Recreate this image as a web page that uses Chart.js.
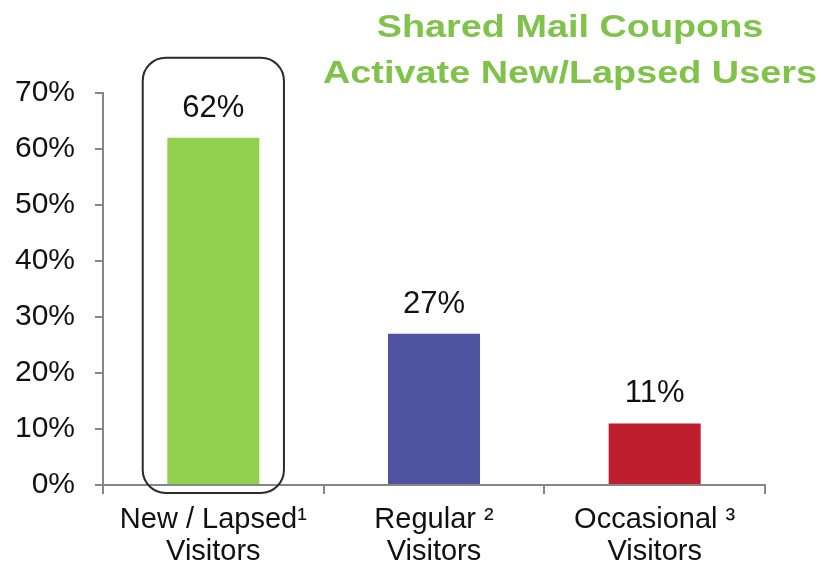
<!DOCTYPE html>
<html>
<head>
<meta charset="utf-8">
<script src="https://cdn.jsdelivr.net/npm/chart.js@4.4.0/dist/chart.umd.min.js"></script>
<style>
  html, body { margin: 0; padding: 0; background: #fff; }
  #wrap { width: 821px; height: 571px; position: relative; }
</style>
</head>
<body>
<div id="wrap"><canvas id="chart"></canvas></div>
<script>
// Shared mail coupons - share of visitors by type

const categories = [
  ['New / Lapsed\u00B9', 'Visitors'],
  ['Regular \u00B2', 'Visitors'],
  ['Occasional \u00B3', 'Visitors']
];
const shares = [62, 27, 11];
const barColors = ['#92D050', '#4F529E', '#BE1E2D'];
const yTicks = [0, 10, 20, 30, 40, 50, 60, 70];
const titleLines = ['Shared Mail Coupons', 'Activate New/Lapsed Users'];
const highlightIndex = 0;   // bar wrapped in the rounded box
const highlightTop = 76.3;  // box top, in % units

const FONT = '"Liberation Sans", Arial, sans-serif';
const AXIS = '#868686';

// green two-line heading, top right
const titlePlugin = {
  id: 'titleText',
  afterDraw(chart) {
    const ctx = chart.ctx;
    ctx.save();
    ctx.fillStyle = '#80C34A';
    ctx.font = 'bold 31px ' + FONT;
    ctx.textAlign = 'center';
    ctx.textBaseline = 'alphabetic';
    const cx = 570;
    [37, 83].forEach((y, i) => {
      ctx.save();
      ctx.translate(cx, y);
      ctx.scale(1.22, 1);
      ctx.fillText(titleLines[i], 0, 0);
      ctx.restore();
    });
    ctx.restore();
  }
};

// value labels above bars
const valueLabels = {
  id: 'valueLabels',
  afterDatasetsDraw(chart) {
    const ctx = chart.ctx;
    const meta = chart.getDatasetMeta(0);
    ctx.save();
    ctx.fillStyle = '#111';
    ctx.font = '31px ' + FONT;
    ctx.textAlign = 'center';
    ctx.textBaseline = 'alphabetic';
    meta.data.forEach((bar, i) => {
      ctx.fillText(shares[i] + '%', bar.x, bar.y - 21);
    });
    ctx.restore();
  }
};

// rounded outline around the highlighted bar
const highlightBox = {
  id: 'highlightBox',
  afterDraw(chart) {
    const x = chart.scales.x, y = chart.scales.y;
    const cw = (x.right - x.left) / categories.length;
    const cx = x.getPixelForValue(highlightIndex);
    const left = cx - cw * 0.32, right = cx + cw * 0.32;
    const top = y.getPixelForValue(highlightTop);
    const bottom = y.getPixelForValue(0) + 8;
    const ctx = chart.ctx;
    ctx.save();
    ctx.strokeStyle = '#2b2b2b';
    ctx.lineWidth = 2;
    ctx.beginPath();
    ctx.roundRect(left, top, right - left, bottom - top, 23);
    ctx.stroke();
    ctx.restore();
  }
};

new Chart(document.getElementById('chart'), {
  type: 'bar',
  data: {
    labels: categories,
    datasets: [{
      data: shares,
      backgroundColor: barColors,
      borderWidth: 0,
      categoryPercentage: 1,
      barPercentage: 0.417
    }]
  },
  options: {
    responsive: true,
    maintainAspectRatio: false,
    animation: false,
    layout: { padding: { top: 93, right: 56, left: 0, bottom: 0 } },
    plugins: { legend: { display: false }, tooltip: { enabled: false } },
    scales: {
      x: {
        grid: { display: true, drawOnChartArea: false, drawTicks: true, tickLength: 9, color: AXIS, lineWidth: 2, offset: true },
        border: { display: true, color: AXIS, width: 2 },
        ticks: { color: '#111', font: { family: FONT, size: 29, lineHeight: 1.1 }, padding: 10, maxRotation: 0, autoSkip: false },
        afterFit(s) { s.height = 86; }
      },
      y: {
        min: 0,
        max: 70,
        afterBuildTicks(s) { s.ticks = yTicks.map(v => ({ value: v })); },
        grid: { display: true, drawOnChartArea: false, drawTicks: true, tickLength: 8, color: AXIS, lineWidth: 2 },
        border: { display: true, color: AXIS, width: 2 },
        ticks: { color: '#111', font: { family: FONT, size: 30 }, padding: 20, callback: v => v + '%' },
        afterFit(s) { s.width = 103; }
      }
    }
  },
  plugins: [titlePlugin, valueLabels, highlightBox]
});
</script>
</body>
</html>
